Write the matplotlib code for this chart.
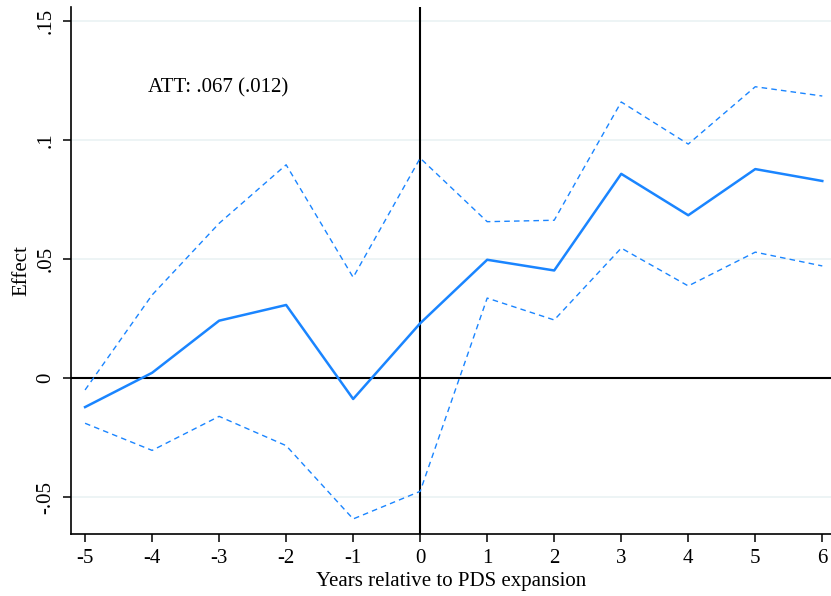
import matplotlib
matplotlib.use("Agg")
import matplotlib.pyplot as plt

years = [-5, -4, -3, -2, -1, 0, 1, 2, 3, 4, 5, 6]
effect = [-0.0122, 0.0022, 0.0241, 0.0307, -0.0088, 0.0230, 0.0497, 0.0452, 0.0858, 0.0684, 0.0878, 0.0828]
upper = [-0.0050, 0.0349, 0.0650, 0.0896, 0.0423, 0.0924, 0.0657, 0.0663, 0.1160, 0.0983, 0.1224, 0.1185]
lower = [-0.0190, -0.0304, -0.0161, -0.0284, -0.0592, -0.0476, 0.0336, 0.0244, 0.0546, 0.0387, 0.0529, 0.0471]
yticks = [-0.05, 0, 0.05, 0.1, 0.15]
ytick_labels = ["-.05", "0", ".05", ".1", ".15"]
att_text = "ATT: .067 (.012)"

plt.rcParams['font.family'] = ['Liberation Serif', 'DejaVu Serif']

fig = plt.figure(figsize=(8.31, 5.96), dpi=100)
ax = fig.add_axes([71/831, 1 - 533.7/596, (831 - 71)/831, (533.7 - 7)/596])

blue = '#1a85ff'
for yv in yticks:
    if yv != 0:
        ax.axhline(yv, color='#eaf2f3', lw=1.2, zorder=0)
ax.axhline(0, color='black', lw=1.5, zorder=1)
ax.axvline(0, color='black', lw=1.5, zorder=1)

ax.plot(years, effect, color=blue, lw=1.8, zorder=3)
ax.plot(years, upper, color=blue, lw=1.0, ls=(0, (4, 3)), zorder=3)
ax.plot(years, lower, color=blue, lw=1.0, ls=(0, (4, 3)), zorder=3)

ax.text(-4.06, 0.1220, att_text, fontsize=15, ha='left', va='center')

ax.set_xlim(-5.21, 6.13)
ax.set_ylim(-0.0654, 0.1559)
ax.set_xticks(years)
ax.set_xticklabels([str(y) for y in years])
ax.set_yticks(yticks)
ax.set_yticklabels(ytick_labels, rotation=90, va='center')

for s in ['top', 'right']:
    ax.spines[s].set_visible(False)
for s in ['left', 'bottom']:
    ax.spines[s].set_linewidth(1.2)
ax.tick_params(axis='both', direction='out', length=6, width=1.1, labelsize=15, pad=5)

ax.set_xlabel("Years relative to PDS expansion", fontsize=15, labelpad=3)
ax.set_ylabel("Effect", fontsize=15, labelpad=4)

fig.savefig("out.png", dpi=100)
